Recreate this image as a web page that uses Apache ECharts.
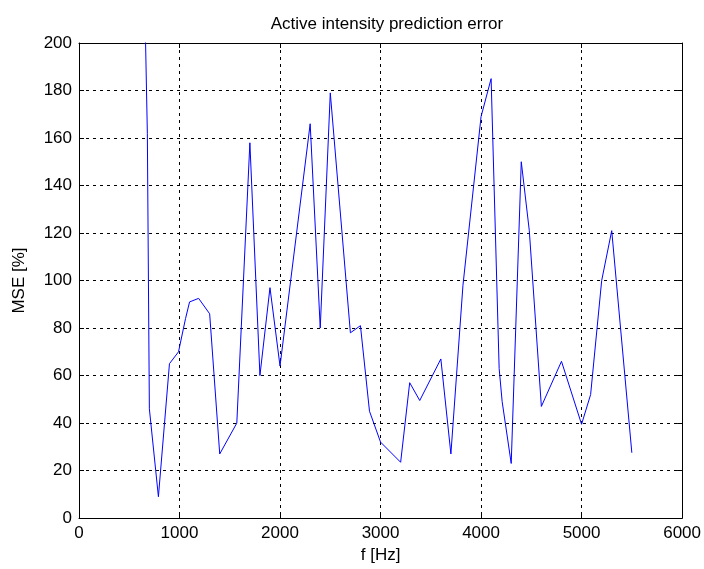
<!DOCTYPE html>
<html>
<head>
<meta charset="utf-8">
<script src="https://cdn.jsdelivr.net/npm/echarts@6/dist/echarts.min.js"></script>
<style>
  html, body { margin: 0; padding: 0; background: #fff; }
  #chart { width: 704px; height: 569px; }
</style>
</head>
<body>
<div id="chart"></div>
<script>
// Frequency samples (Hz) and the mean squared prediction error (%) at each
const freqHz = [660, 680, 700, 790, 900, 990, 1060, 1100, 1190, 1300, 1400, 1570, 1700, 1800, 1900, 2000,
  2300, 2400, 2500, 2700, 2800, 2890, 3000, 3200, 3290, 3390, 3600, 3700, 3820, 4000, 4100, 4180, 4210,
  4300, 4400, 4480, 4600, 4800, 5000, 5090, 5200, 5300, 5500];
const mseValues = [205, 162, 46, 9, 65, 70, 84, 91, 92.5, 86, 27, 40, 158, 60, 97, 64,
  166, 80, 179, 78, 81, 45, 32, 23.5, 57, 49.5, 67, 27, 98, 169, 185, 63, 49,
  23, 150, 121, 47, 66, 39.5, 52, 100, 121, 27.5];

const xTicks = [0, 1000, 2000, 3000, 4000, 5000, 6000];
const yTicks = [0, 20, 40, 60, 80, 100, 120, 140, 160, 180, 200];

const font = 'Liberation Sans, Arial, sans-serif';
const fs = 17;
const gridLine = { show: true, lineStyle: { color: '#000', width: 1, type: [3, 4] } };
const frame = { show: true, onZero: false, lineStyle: { color: '#000', width: 1 } };
const tick = { show: true, inside: true, length: 5, lineStyle: { color: '#000' } };
const plain = v => String(v);

const chart = echarts.init(document.getElementById('chart'), null, { renderer: 'canvas' });
chart.setOption({
  backgroundColor: '#fff',
  animation: false,
  title: {
    text: 'Active intensity prediction error',
    left: 382, top: 11, textAlign: 'center',
    textStyle: { fontFamily: font, fontSize: 17, fontWeight: 'normal', color: '#000' }
  },
  grid: { left: 79, right: 20, top: 43, bottom: 49 },
  xAxis: [{
    type: 'value', min: xTicks[0], max: xTicks[xTicks.length - 1], interval: 1000,
    name: 'f [Hz]', nameLocation: 'middle', nameGap: 28,
    nameTextStyle: { fontFamily: font, fontSize: fs, color: '#000' },
    axisLine: frame, axisTick: tick, splitLine: gridLine,
    axisLabel: { fontFamily: font, fontSize: fs, color: '#000', margin: 7, formatter: plain }
  }, {
    type: 'value', position: 'top', min: xTicks[0], max: xTicks[xTicks.length - 1], interval: 1000,
    axisLine: frame, axisTick: tick, splitLine: { show: false }, axisLabel: { show: false }
  }],
  yAxis: [{
    type: 'value', min: yTicks[0], max: yTicks[yTicks.length - 1], interval: 20,
    name: 'MSE [%]', nameLocation: 'middle', nameGap: 51, nameRotate: 90,
    nameTextStyle: { fontFamily: font, fontSize: fs, color: '#000' },
    axisLine: frame, axisTick: tick, splitLine: gridLine,
    axisLabel: { fontFamily: font, fontSize: fs, color: '#000', margin: 7, formatter: plain }
  }, {
    type: 'value', position: 'right', min: yTicks[0], max: yTicks[yTicks.length - 1], interval: 20,
    axisLine: frame, axisTick: tick, splitLine: { show: false }, axisLabel: { show: false }
  }],
  series: [{
    type: 'line',
    data: freqHz.map((f, i) => [f, mseValues[i]]),
    showSymbol: false,
    clip: true,
    lineStyle: { color: '#0000ff', width: 1 },
    itemStyle: { color: '#0000ff' }
  }]
});
</script>
</body>
</html>
